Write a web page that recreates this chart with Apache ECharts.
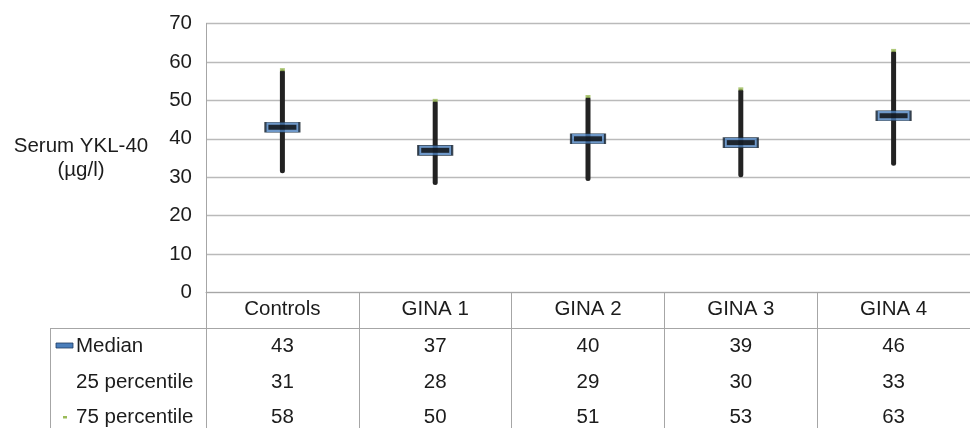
<!DOCTYPE html>
<html><head><meta charset="utf-8">
<script src="https://cdn.jsdelivr.net/npm/echarts@6/dist/echarts.min.js"></script>
<style>html,body{margin:0;padding:0;background:#fff}#c{width:970px;height:428px}</style>
</head><body><div id="c"></div>
<script>
const categories = ['Controls', 'GINA 1', 'GINA 2', 'GINA 3', 'GINA 4'];
const median = [43, 37, 40, 39, 46];
const p25 = [31, 28, 29, 30, 33];
const p75 = [58, 50, 51, 53, 63];
const yTicks = [0, 10, 20, 30, 40, 50, 60, 70];
const rowNames = ['Median', '25 percentile', '75 percentile'];

const FONT = 'Liberation Sans, Arial, sans-serif';
const FS = 20.5;
const TXT = '#1c1c1c';
const LINE = '#a6a6a6';
const chart = echarts.init(document.getElementById('c'), null, {renderer: 'canvas'});

const span = p75.map((v, i) => v - p25[i]);
const rowAxis = (vals, margin) => ({
  type: 'category', data: categories, gridIndex: 0, position: 'bottom',
  axisLine: {show: false}, axisTick: {show: false},
  axisLabel: {margin: margin, fontFamily: FONT, fontSize: FS, color: TXT, lineHeight: 20,
    formatter: (v, i) => String(vals[i])}
});

chart.setOption({
  animation: false,
  grid: {left: 206, right: 0, top: 23.5, height: 269},
  xAxis: [
    {type: 'category', data: categories, position: 'bottom',
     axisLine: {show: true, lineStyle: {color: LINE, width: 1}},
     axisTick: {show: true, length: 140, lineStyle: {color: LINE, width: 1}},
     axisLabel: {margin: 6.5, fontFamily: FONT, fontSize: FS, color: TXT, lineHeight: 20}},
    rowAxis(median, 43.5),
    rowAxis(p25, 79.5),
    rowAxis(p75, 115)
  ],
  yAxis: {type: 'value', min: 0, max: 70, interval: 10,
    axisLine: {show: true, lineStyle: {color: LINE}},
    axisTick: {show: false},
    splitLine: {lineStyle: {color: '#bababa', width: 1.3}},
    axisLabel: {margin: 14, fontFamily: FONT, fontSize: FS, color: TXT,
      formatter: v => yTicks.includes(v) ? String(v) : ''}},
  graphic: [
    {type: 'text', x: 81, y: 146, style: {text: 'Serum YKL-40', font: FS + 'px ' + FONT, fill: TXT, align: 'center', verticalAlign: 'middle'}},
    {type: 'text', x: 81, y: 170, style: {text: '(µg/l)', font: FS + 'px ' + FONT, fill: TXT, align: 'center', verticalAlign: 'middle'}},
    {type: 'line', shape: {x1: 50, y1: 328.5, x2: 970, y2: 328.5}, style: {stroke: LINE, lineWidth: 1}},
    {type: 'line', shape: {x1: 50.5, y1: 328, x2: 50.5, y2: 428}, style: {stroke: LINE, lineWidth: 1}},
    {type: 'rect', shape: {x: 56, y: 343, width: 17, height: 5}, style: {fill: '#4a7ebb', stroke: '#1f3a5f', lineWidth: 0.8}},
    {type: 'rect', shape: {x: 63, y: 416, width: 4, height: 2.5}, style: {fill: '#9bbb59'}},
    {type: 'text', x: 76, y: 346, style: {text: rowNames[0], font: FS + 'px ' + FONT, fill: TXT, verticalAlign: 'middle'}},
    {type: 'text', x: 76, y: 382, style: {text: rowNames[1], font: FS + 'px ' + FONT, fill: TXT, verticalAlign: 'middle'}},
    {type: 'text', x: 76, y: 417.5, style: {text: rowNames[2], font: FS + 'px ' + FONT, fill: TXT, verticalAlign: 'middle'}}
  ],
  series: [
    {type: 'bar', stack: 'w', data: p25, barWidth: 5, itemStyle: {color: 'transparent'}, silent: true},
    {type: 'bar', stack: 'w', data: span, barWidth: 5, itemStyle: {color: '#222222', borderRadius: 2.5}},
    {type: 'scatter', data: median, symbol: 'rect', symbolSize: [34, 10],
     itemStyle: {color: '#4a7ebb', borderColor: '#15202c', borderWidth: 1.2}, z: 5},
    {type: 'scatter', data: median, symbol: 'rect', symbolSize: [28, 5],
     itemStyle: {color: '#0a0a0a'}, z: 6},
    {type: 'scatter', data: p75, symbol: 'rect', symbolSize: [5, 3],
     itemStyle: {color: '#9bbb59'}, z: 6}
  ]
});
</script></body></html>
